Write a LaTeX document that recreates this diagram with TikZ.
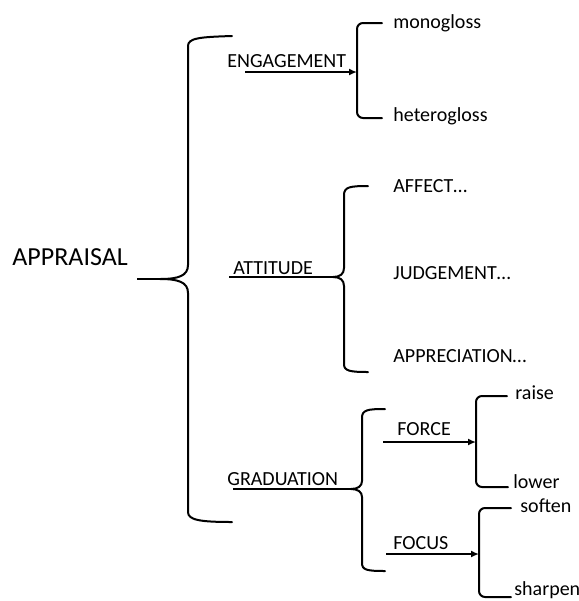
\documentclass[tikz,border=0pt]{standalone}
\usepackage{fontspec}
\setmainfont{Carlito}
\usetikzlibrary{arrows.meta}

\tikzset{
  term/.style={anchor=base west, inner sep=0pt, font=\fontsize{10}{12}\selectfont},
  rootterm/.style={anchor=base west, inner sep=0pt, font=\fontsize{13}{15}\selectfont},
  bracket/.style={line width=1pt, line cap=round},
  link/.style={line width=1pt},
  feed/.style={line width=0.8pt, -{Latex[length=4pt,width=3.5pt]}}
}

\begin{document}
\begin{tikzpicture}[x=0.5pt, y=-0.5pt]
	\useasboundingbox (0,0) rectangle (579,601);

	\node[rootterm] (appraisal) at (12,265) {APPRAISAL};
	\coordinate (apL) at (137,279);
	\coordinate (apM) at (160,279);
	\coordinate (apT) at (232,36);
	\coordinate (apB) at (232,522);
	\draw[link] (apL) -- (apM);
	\draw[bracket] (apT) .. controls (200,37) and (188,38) .. (188,46) -- (188,265)
		.. controls (188,276) and (178,279) .. (apM)
		.. controls (178,279) and (188,282) .. (188,293) -- (188,512)
		.. controls (188,520) and (200,522) .. (apB);

	\node[term] (engagement) at (227,67) {ENGAGEMENT};
	\coordinate (enL) at (245,72);
	\coordinate (enM) at (357,72);
	\coordinate (enT) at (382,23);
	\coordinate (enB) at (382,118);
	\draw[feed] (enL) -- (enM);
	\draw[bracket, rounded corners=3pt] (enT) -| (enM) |- (enB);
	\node[term] (monogloss) at (393,28) {monogloss};
	\node[term] (heterogloss) at (393,121) {heterogloss};

	\node[term] (attitude) at (233,274) {ATTITUDE};
	\coordinate (atL) at (229,277);
	\coordinate (atM) at (333,277);
	\coordinate (atT) at (368,186);
	\coordinate (atB) at (368,372);
	\draw[link] (atL) -- (atM);
	\draw[bracket] (atT) .. controls (350,186) and (344,187) .. (344,195) -- (344,268)
		.. controls (344,274) and (340,277) .. (atM)
		.. controls (340,277) and (344,280) .. (344,286) -- (344,364)
		.. controls (344,371) and (350,372) .. (atB);
	\node[term] (affect) at (393,192) {AFFECT…};
	\node[term] (judgement) at (393,279) {JUDGEMENT…};
	\node[term] (appreciation) at (393,362) {APPRECIATION…};

	\node[term] (graduation) at (227,485) {GRADUATION};
	\coordinate (grL) at (233,489);
	\coordinate (grM) at (351,489);
	\coordinate (grT) at (385,409);
	\coordinate (grB) at (385,571);
	\draw[link] (grL) -- (grM);
	\draw[bracket] (grT) .. controls (367,409) and (362,410) .. (362,418) -- (362,481)
		.. controls (362,486) and (358,489) .. (grM)
		.. controls (358,489) and (362,492) .. (362,497) -- (362,563)
		.. controls (362,570) and (367,571) .. (grB);

	\node[term] (force) at (397,435) {FORCE};
	\coordinate (foL) at (383,442);
	\coordinate (foM) at (476,442);
	\coordinate (foT) at (507,396);
	\coordinate (foB) at (508,487);
	\draw[feed] (foL) -- (foM);
	\draw[bracket, rounded corners=3pt] (foT) -| (foM) |- (foB);
	\node[term] (raise) at (515,399) {raise};
	\node[term] (lower) at (513,488) {lower};

	\node[term] (focus) at (393,549) {FOCUS};
	\coordinate (fcL) at (386,554);
	\coordinate (fcM) at (479,554);
	\coordinate (fcT) at (511,508);
	\coordinate (fcB) at (511,597);
	\draw[feed] (fcL) -- (fcM);
	\draw[bracket, rounded corners=3pt] (fcT) -| (fcM) |- (fcB);
	\node[term] (soften) at (520,512) {soften};
	\node[term] (sharpen) at (514,595) {sharpen};
\end{tikzpicture}
\end{document}
